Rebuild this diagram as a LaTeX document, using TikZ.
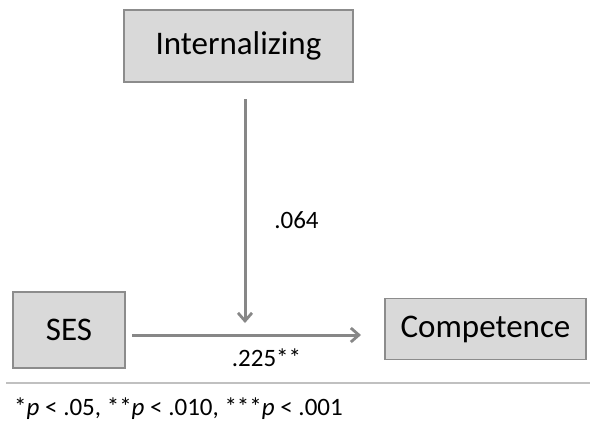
\documentclass[tikz,border=0pt]{standalone}
\usepackage{fontspec}
\setmainfont{Carlito}
\usetikzlibrary{arrows.meta}

\definecolor{boxfill}{HTML}{D9D9D9}
\definecolor{boxline}{HTML}{8C8C8C}
\definecolor{arrowgray}{HTML}{878787}
\definecolor{rulegray}{HTML}{C0C0C0}

\begin{document}
\begin{tikzpicture}[x=1pt, y=-1pt,
  var/.style={draw=boxline, line width=1.5pt, fill=boxfill, inner sep=0pt,
    font=\fontsize{33}{40}\selectfont},
  path/.style={draw=arrowgray, line width=3pt,
    -{Straight Barb[length=8pt, width=14pt, line width=2.8pt]}},
  coef/.style={font=\fontsize{25}{30}\selectfont, inner sep=0pt}]

  \useasboundingbox (0,0) rectangle (590,421);

  % the three variables
  \node [var, minimum width=229pt, minimum height=72pt] (intern) at (238.5,46) {Internalizing};
  \node [var, minimum width=112pt, minimum height=76pt] (ses) at (69,330) {SES};
  \node [var, minimum width=201pt, minimum height=61pt] (comp) at (485.5,329) {Competence};

  % moderation path
  \coordinate (modtop) at (245,99);
  \coordinate (modend) at (245,323);
  \draw [path] (modtop) -- (modend);
  \node [coef] (b064) at (296.5,220) {.064};

  % direct path
  \coordinate (dirstart) at (132,335);
  \coordinate (dirend) at (361,335);
  \draw [path] (dirstart) -- (dirend);
  \node [coef] (b225) at (266.5,358) {.225**};

  % footnote
  \draw [rulegray, line width=1.6pt] (6,383) -- (590,383);
  \node [coef, anchor=west] (note) at (14,409)
    {*\textit{p} < .05, **\textit{p} < .010, ***\textit{p} < .001};

\end{tikzpicture}
\end{document}
